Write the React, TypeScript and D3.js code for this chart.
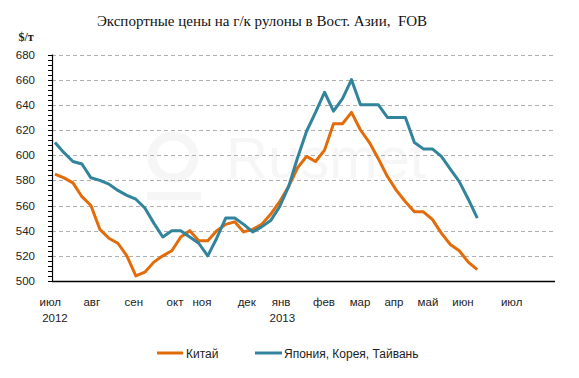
import React from "react";
import * as d3 from "d3";

const chinaValues = [585, 582, 578, 567, 560, 541, 534, 530, 520, 504, 507, 515, 520, 524, 535, 540, 532, 532, 540, 545, 547, 539, 541, 545, 553, 563, 575, 590, 599, 595, 604, 625, 625, 634, 620, 610, 597, 583, 572, 563, 555, 555, 549, 538, 529, 524, 515, 509];
const asiaValues = [610, 602, 595, 593, 582, 580, 577, 572, 568, 565, 558, 546, 535, 540, 540, 535, 530, 520, 534, 550, 550, 545, 539, 543, 548, 559, 575, 598, 619, 634, 650, 635, 645, 660, 640, 640, 640, 630, 630, 630, 610, 605, 605, 599, 589, 579, 565, 550];
const monthLabels = ["июл", "авг", "сен", "окт", "ноя", "дек", "янв", "фев", "мар", "апр", "май", "июн", "июл"];
const monthPositions = [-0.52, 4.09, 8.77, 13.36, 16.36, 21.34, 25.16, 29.94, 33.95, 37.72, 41.51, 45.41, 50.83];
const yearLabels = ["2012", "2013"];
const yearPositions = [0, 25.3];
const yTicks = [500, 520, 540, 560, 580, 600, 620, 640, 660, 680];
const seriesNames = ["Китай", "Япония, Корея, Тайвань"];
const seriesColors = ["#E36C0A", "#31849B"];

const W = 579;
const H = 378;
const left = 52;
const right = 555;
const top = 54.5;
const bottom = 281;

export default function App() {
  const x = d3.scaleLinear().domain([-0.333, 55.65]).range([left, right]);
  const y = d3.scaleLinear().domain([500, 680]).range([bottom, top]);
  const line = d3
    .line<number>()
    .x((_, i) => x(i))
    .y((d) => y(d));
  const minor = d3.range(500, 681, 4);
  const sans = "Liberation Sans, Arial, sans-serif";
  const serif = "Liberation Serif, Times New Roman, serif";
  const series = [chinaValues, asiaValues];

  return (
    <div style={{ position: "absolute", left: 0, top: 0 }}>
      <svg width={W} height={H} style={{ display: "block", background: "#fff" }}>
        {/* watermark */}
        <g fill="#f6f6f6" stroke="none">
          <circle cx={173} cy={157} r={21} fill="none" stroke="#f6f6f6" strokeWidth={9} />
          <rect x={147} y={192} width={54} height={8} />
          <text x={226} y={178} fontFamily={sans} fontSize={58}>
            Rusmet
          </text>
        </g>
        {/* title */}
        <text x={262} y={26} textAnchor="middle" fontFamily={serif} fontSize={15} fill="#111">
          Экспортные цены на г/к рулоны в Вост. Азии,{"\u00a0\u00a0"}FOB
        </text>
        <text x={26} y={41} textAnchor="middle" fontFamily={serif} fontSize={12} fontWeight="bold" fill="#222">
          $/т
        </text>
        {/* gridlines */}
        {yTicks.slice(1).map((t) => (
          <line
            key={"g" + t}
            x1={left}
            x2={right}
            y1={Math.round(y(t)) + 0.5}
            y2={Math.round(y(t)) + 0.5}
            stroke="#b0b0b0"
            strokeWidth={1}
            strokeDasharray="4,3"
          />
        ))}
        {/* y axis */}
        <line x1={left + 0.5} x2={left + 0.5} y1={top} y2={bottom} stroke="#000" strokeWidth={1.2} />
        {minor.map((t) => (
          <line
            key={"m" + t}
            x1={left - 4}
            x2={left}
            y1={Math.round(y(t)) + 0.5}
            y2={Math.round(y(t)) + 0.5}
            stroke="#000"
            strokeWidth={1}
          />
        ))}
        {yTicks.map((t) => (
          <text key={"t" + t} x={35} y={y(t) + 4} textAnchor="end" fontFamily={sans} fontSize={11.5} fill="#222">
            {t}
          </text>
        ))}
        {/* x axis */}
        <line x1={left} x2={right} y1={bottom + 0.5} y2={bottom + 0.5} stroke="#000" strokeWidth={1.5} />
        {monthLabels.map((m, i) => (
          <text key={"x" + i} x={x(monthPositions[i])} y={306} textAnchor="middle" fontFamily={sans} fontSize={11.5} fill="#222">
            {m}
          </text>
        ))}
        {yearLabels.map((m, i) => (
          <text key={"yr" + i} x={x(yearPositions[i])} y={322} textAnchor="middle" fontFamily={sans} fontSize={11.5} fill="#222">
            {m}
          </text>
        ))}
        {/* series */}
        {series.map((s, i) => (
          <path
            key={"s" + i}
            d={line(s) || ""}
            fill="none"
            stroke={seriesColors[i]}
            strokeWidth={3}
            strokeLinejoin="round"
          />
        ))}
        {/* legend */}
        <line x1={157} x2={183} y1={353} y2={353} stroke={seriesColors[0]} strokeWidth={3} />
        <text x={186} y={357.5} fontFamily={sans} fontSize={12} fill="#222">
          {seriesNames[0]}
        </text>
        <line x1={255} x2={282} y1={353} y2={353} stroke={seriesColors[1]} strokeWidth={3} />
        <text x={284} y={357.5} fontFamily={sans} fontSize={12} fill="#222">
          {seriesNames[1]}
        </text>
      </svg>
    </div>
  );
}
